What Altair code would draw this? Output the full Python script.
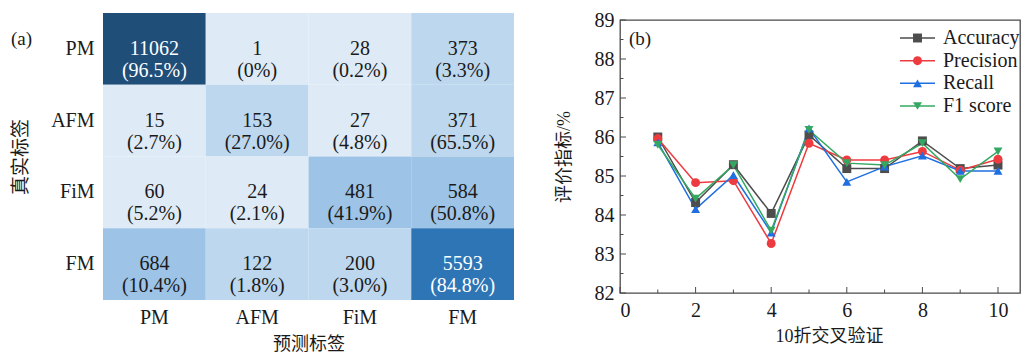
import altair as alt
import pandas as pd

SERIF = "Liberation Serif"
CJK = "Liberation Serif, Noto Sans CJK SC"
INK = "#1a1a1a"

# ---------------- confusion matrix data ----------------
true_labels = ["PM", "AFM", "FiM", "FM"]
pred_labels = ["PM", "AFM", "FiM", "FM"]
counts = [
    [11062, 1, 28, 373],
    [15, 153, 27, 371],
    [60, 24, 481, 584],
    [684, 122, 200, 5593],
]
percents = [
    ["96.5%", "0%", "0.2%", "3.3%"],
    ["2.7%", "27.0%", "4.8%", "65.5%"],
    ["5.2%", "2.1%", "41.9%", "50.8%"],
    ["10.4%", "1.8%", "3.0%", "84.8%"],
]
heat_thresholds = [100, 400, 1000, 8000]
heat_colors = ["#deebf7", "#bdd7ee", "#9dc3e6", "#2e75b6", "#1f4e79"]

# ---------------- cross-validation data ----------------
folds = [1, 2, 3, 4, 5, 6, 7, 8, 9, 10]
accuracy = [86.00, 84.32, 85.29, 84.04, 86.05, 85.19, 85.19, 85.90, 85.19, 85.28]
precision = [85.96, 84.83, 84.88, 83.27, 85.84, 85.41, 85.41, 85.63, 85.15, 85.43]
recall = [85.86, 84.15, 85.02, 83.55, 86.22, 84.85, 85.24, 85.52, 85.13, 85.13]
f1score = [85.80, 84.42, 85.28, 83.60, 86.18, 85.33, 85.28, 85.84, 84.92, 85.63]
series = ["Accuracy", "Precision", "Recall", "F1 score"]
series_colors = ["#4d4d4d", "#ee3b3f", "#1f6fe0", "#34a862"]
series_shapes = ["square", "circle", "triangle-up", "triangle-down"]
y_major = [82, 83, 84, 85, 86, 87, 88, 89]
y_minor = [82.5, 83.5, 84.5, 85.5, 86.5, 87.5, 88.5]
x_major = [0, 2, 4, 6, 8, 10]
x_minor = [1, 3, 5, 7, 9]

# ---------------- heatmap ----------------
rows = []
for i, t in enumerate(true_labels):
    for j, p in enumerate(pred_labels):
        rows.append({"true": t, "pred": p, "count": counts[i][j],
                     "label": f"{counts[i][j]}\n({percents[i][j]})"})
heat_df = pd.DataFrame(rows)

HW, HH, HTOP = 411, 280, -7
xh = alt.X("pred:N", sort=pred_labels,
           scale=alt.Scale(paddingInner=0, paddingOuter=0),
           axis=alt.Axis(title="预测标签", labelAngle=0, ticks=False, domain=False,
                         labelFont=SERIF, labelFontSize=20, labelColor=INK, labelPadding=7,
                         titleFont=CJK, titleFontSize=18, titleFontWeight="normal", titleColor=INK,
                         titleX=HW / 2, titleY=44, titleBaseline="middle"))
yh = alt.Y("true:N", sort=true_labels,
           scale=alt.Scale(paddingInner=0, paddingOuter=0, range=[HTOP, HH]),
           axis=alt.Axis(title="真实标签", ticks=False, domain=False,
                         labelFont=SERIF, labelFontSize=20, labelColor=INK, labelPadding=9,
                         titleFont=CJK, titleFontSize=19, titleFontWeight="normal", titleColor=INK,
                         titleX=-83, titleY=(HTOP + HH) / 2, titleBaseline="middle",
                         titleAlign="center"))

heat_base = alt.Chart(heat_df)
rects = heat_base.mark_rect().encode(
    x=xh, y=yh,
    color=alt.Color("count:Q", scale=alt.Scale(type="threshold", domain=heat_thresholds,
                                               range=heat_colors), legend=None),
)
cell_text = heat_base.mark_text(font=SERIF, fontSize=20, lineBreak="\n", lineHeight=22,
                                baseline="middle").encode(
    x=xh, y=yh, text="label:N",
    color=alt.condition(alt.datum.count > 4000, alt.value("white"), alt.value(INK)),
)
tag_a = alt.Chart(pd.DataFrame({"t": ["(a)"]})).mark_text(
    font=SERIF, fontSize=19, align="left", baseline="middle", color=INK
).encode(x=alt.value(-92), y=alt.value(19), text="t:N")

heat = alt.layer(rects, cell_text, tag_a).properties(
    width=HW, height=HH, view=alt.ViewBackground(stroke=None))

# ---------------- line chart ----------------
LW, LH = 400, 273
XMAX = LW / 37.8
line_rows = []
for name, vals in zip(series, [accuracy, precision, recall, f1score]):
    for f, v in zip(folds, vals):
        line_rows.append({"fold": f, "value": v, "series": name})
line_df = pd.DataFrame(line_rows)

xscale = alt.Scale(domain=[0, XMAX], nice=False, zero=False)
yscale = alt.Scale(domain=[82, 89], nice=False, zero=False)
cscale = alt.Scale(domain=series, range=series_colors)
sscale = alt.Scale(domain=series, range=series_shapes)

x_axis = alt.Axis(values=x_major, ticks=False, domain=False, grid=False, format="d",
                  labelOverlap=False,
                  labelFont=SERIF, labelFontSize=20, labelColor=INK, labelPadding=7,
                  title="10折交叉验证", titleFont=CJK, titleFontSize=18,
                  titleFontWeight="normal", titleColor=INK,
                  titleX=209, titleY=43, titleBaseline="middle")
y_axis = alt.Axis(values=y_major, ticks=False, domain=False, grid=False, format="d",
                  labelOverlap=False,
                  labelFont=SERIF, labelFontSize=20, labelColor=INK, labelPadding=6,
                  title="评价指标/%", titleFont=CJK, titleFontSize=18,
                  titleFontWeight="normal", titleColor=INK,
                  titleX=-56, titleY=LH / 2, titleBaseline="middle", titleAlign="center")


def X(field):
    return alt.X(field, type="quantitative", scale=xscale, axis=x_axis)


def Y(field):
    return alt.Y(field, type="quantitative", scale=yscale, axis=y_axis)


lbase = alt.Chart(line_df)
lines = lbase.mark_line(strokeWidth=1.5).encode(
    x=X("fold"), y=Y("value"),
    color=alt.Color("series:N", scale=cscale, legend=None), detail="series:N")
points = lbase.mark_point(filled=True, size=80, opacity=1).encode(
    x=X("fold"), y=Y("value"),
    color=alt.Color("series:N", scale=cscale, legend=None),
    shape=alt.Shape("series:N", scale=sscale, legend=None))

TICK = "#4a4a4a"
yt_major = alt.Chart(pd.DataFrame({"v": y_major})).mark_rule(color=TICK, strokeWidth=1).encode(
    y=Y("v"), x=alt.value(0), x2=alt.value(6))
yt_minor = alt.Chart(pd.DataFrame({"v": y_minor})).mark_rule(color=TICK, strokeWidth=1).encode(
    y=Y("v"), x=alt.value(0), x2=alt.value(3.5))
xt_major = alt.Chart(pd.DataFrame({"v": x_major})).mark_rule(color=TICK, strokeWidth=1).encode(
    x=X("v"), y=alt.value(LH), y2=alt.value(LH - 6))
xt_minor = alt.Chart(pd.DataFrame({"v": x_minor})).mark_rule(color=TICK, strokeWidth=1).encode(
    x=X("v"), y=alt.value(LH), y2=alt.value(LH - 3.5))
tag_b = alt.Chart(pd.DataFrame({"t": ["(b)"]})).mark_text(
    font=SERIF, fontSize=19, align="left", baseline="middle", color=INK
).encode(x=alt.value(9), y=alt.value(19), text="t:N")

main = alt.layer(lines, points, yt_major, yt_minor, xt_major, xt_minor, tag_b)

leg_df = pd.DataFrame({"series": series})
ly = alt.Y("series:N", scale=alt.Scale(type="point", domain=series, range=[18, 86], padding=0),
           axis=None)
leg_rule = alt.Chart(leg_df).mark_rule(strokeWidth=1.5).encode(
    y=ly, x=alt.value(280), x2=alt.value(315),
    color=alt.Color("series:N", scale=cscale, legend=None))
leg_pt = alt.Chart(leg_df).mark_point(filled=True, size=80, opacity=1).encode(
    y=ly, x=alt.value(297.5),
    color=alt.Color("series:N", scale=cscale, legend=None),
    shape=alt.Shape("series:N", scale=sscale, legend=None))
leg_txt = alt.Chart(leg_df).mark_text(font=SERIF, fontSize=20, align="left",
                                      baseline="middle", color=INK).encode(
    y=ly, x=alt.value(323), text="series:N")
legend = alt.layer(leg_rule, leg_pt, leg_txt)

linechart = alt.layer(main, legend).resolve_scale(y="independent").properties(
    width=LW, height=LH,
    view=alt.ViewBackground(stroke="#4a4a4a", strokeWidth=1.3))

chart = alt.hconcat(heat, linechart, spacing=40).properties(
    padding={"left": 2, "top": 1, "right": 0, "bottom": 0}
).configure_view(stroke=None)

chart.save("out.html", embed_options={"renderer": "svg", "actions": False})
